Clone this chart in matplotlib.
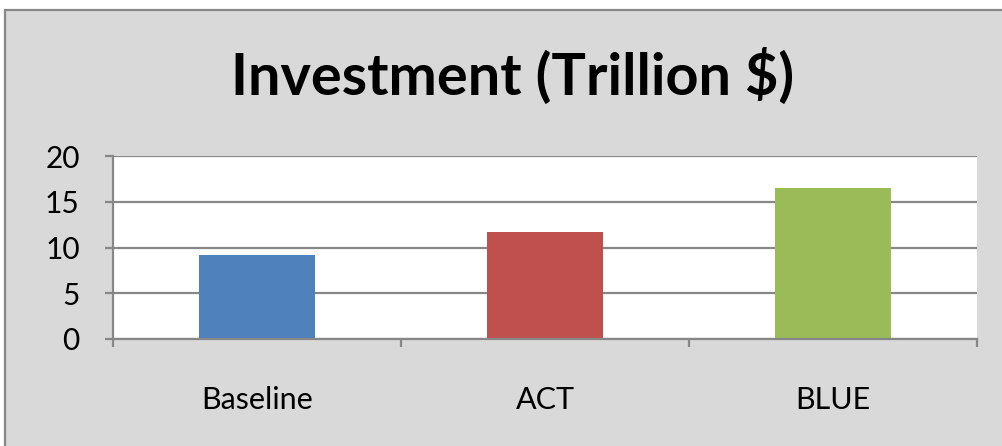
import matplotlib
matplotlib.use("Agg")
import matplotlib.pyplot as plt
from matplotlib.patches import Rectangle
from matplotlib.ticker import MultipleLocator, FixedLocator

scenarios = ["Baseline", "ACT", "BLUE"]
investment = [9.2, 11.7, 16.5]
bar_colors = ["#4f81bd", "#c0504d", "#9bbb59"]

plt.rcParams['font.family'] = ['Lato', 'DejaVu Sans']

W, H = 1003, 446
fig = plt.figure(figsize=(W / 100, H / 100), dpi=100)
fig.patch.set_facecolor("white")

# grey chart area with a border on the top and left edges
frame = Rectangle((5 / W, -0.02), 1.05, 1 - 10 / H + 0.02,
                  transform=fig.transFigure, facecolor="#d9d9d9",
                  edgecolor="#878787", linewidth=1.6, zorder=-1)
fig.patches.append(frame)

ax = fig.add_axes([113 / W, (H - 339) / H, (977 - 113) / W, (339 - 156) / H])
ax.set_facecolor("white")

x = range(len(scenarios))
ax.bar(x, investment, width=0.4, color=bar_colors, zorder=2)

ax.set_xlim(-0.5, 2.5)
ax.set_ylim(0, 20)
ax.yaxis.set_major_locator(MultipleLocator(5))
ax.set_axisbelow(True)
ax.grid(axis="y", color="#878787", linewidth=1.6)

ax.set_xticks(list(x))
ax.set_xticklabels(scenarios)
ax.xaxis.set_minor_locator(FixedLocator([-0.5, 0.5, 1.5, 2.5]))

for side in ["top", "right"]:
    ax.spines[side].set_visible(False)
for side in ["left", "bottom"]:
    ax.spines[side].set_color("#878787")
    ax.spines[side].set_linewidth(1.6)
    ax.spines[side].set_zorder(3)

ax.tick_params(axis="y", length=6, width=1.6, color="#878787",
               labelsize=21.5, pad=18)
ax.tick_params(axis="x", which="major", length=0, labelsize=22, pad=34)
ax.tick_params(axis="x", which="minor", length=6, width=1.6, color="#878787")

fig.text(512.5 / W, 1 - 76 / H, "Investment (Trillion $)", ha="center",
         va="center", fontsize=41.5, fontweight="bold")

fig.savefig("out.png", dpi=100)
